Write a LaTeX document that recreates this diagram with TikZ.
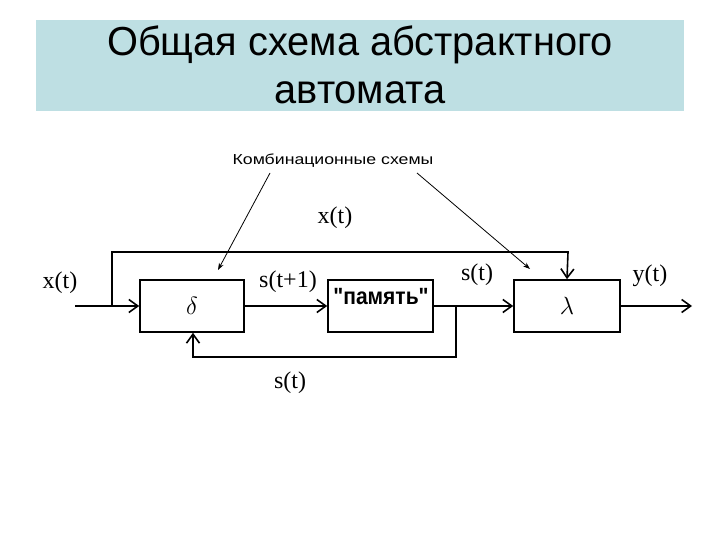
\documentclass[tikz,border=0pt]{standalone}
\usepackage{fontspec}
\setmainfont{Liberation Serif}
\newfontfamily\sansf{Liberation Sans}
\usetikzlibrary{arrows.meta}
\definecolor{band}{HTML}{BEDFE3}
\begin{document}
\begin{tikzpicture}[x=1pt,y=-1pt,
  blk/.style={draw,line width=1.6pt,inner sep=0pt},
  wire/.style={line width=1.6pt},
  sig/.style={wire,-{Straight Barb[length=9pt,width=13pt,line width=1.6pt]}},
  note/.style={line width=0.8pt,-{Stealth[length=7pt,width=5pt]}},
  lbl/.style={font=\fontsize{24}{26}\selectfont,inner sep=0pt}]
\useasboundingbox[fill=white] (0,0) rectangle (720,540);
\fill[band] (36,20) rectangle (684,111);
\node[font=\sansf\fontsize{39}{46}\selectfont,align=center,inner sep=0pt,xscale=1.02,yscale=1.04] (title) at (360,65)
  {Общая схема абстрактного\\автомата};
\node[font=\sansf\fontsize{14.5}{17}\selectfont,inner sep=0pt,xscale=1.22] (sub) at (333,161) {Комбинационные схемы};
% blocks
\node[blk,minimum width=104pt,minimum height=52pt] (d) at (192,306) {\fontsize{26}{28}\selectfont$\delta$};
\node[blk,minimum width=105pt,minimum height=52pt] (m) at (380.5,306) {};
\node[font=\sansf\bfseries\fontsize{21}{23}\selectfont,inner sep=0pt,yscale=1.12] (mt) at (381,297) {"память"};
\node[blk,minimum width=106pt,minimum height=52pt] (l) at (567,306) {\fontsize{26}{28}\selectfont$\lambda$};
\coordinate (xin) at (75,306);
\coordinate (yout) at (692,306);
\coordinate (br1) at (112,306);
\coordinate (br2) at (456,306);
% wires
\draw[sig] (xin) -- (d.west);
\draw[sig] (d.east) -- (m.west);
\draw[sig] (m.east) -- (l.west);
\draw[sig] (l.east) -- (yout);
\draw[sig] (br1) |- (568,252) -- (l.north);
\draw[sig] (br2) |- (193,357) -- (d.south -| 193,0);
% labels
\node[lbl] (lx1) at (60,283) {x(t)};
\node[lbl] (lx2) at (335,218) {x(t)};
\node[lbl] (ls1) at (288,282) {s(t+1)};
\node[lbl] (ls2) at (477,275) {s(t)};
\node[lbl] (ly) at (650,276) {y(t)};
\node[lbl] (ls3) at (290,383) {s(t)};
% annotation arrows
\coordinate (a1) at (270,173);
\coordinate (a2) at (417,173);
\draw[note] (a1) -- (218,270);
\draw[note] (a2) -- (530,269);
\end{tikzpicture}
\end{document}
